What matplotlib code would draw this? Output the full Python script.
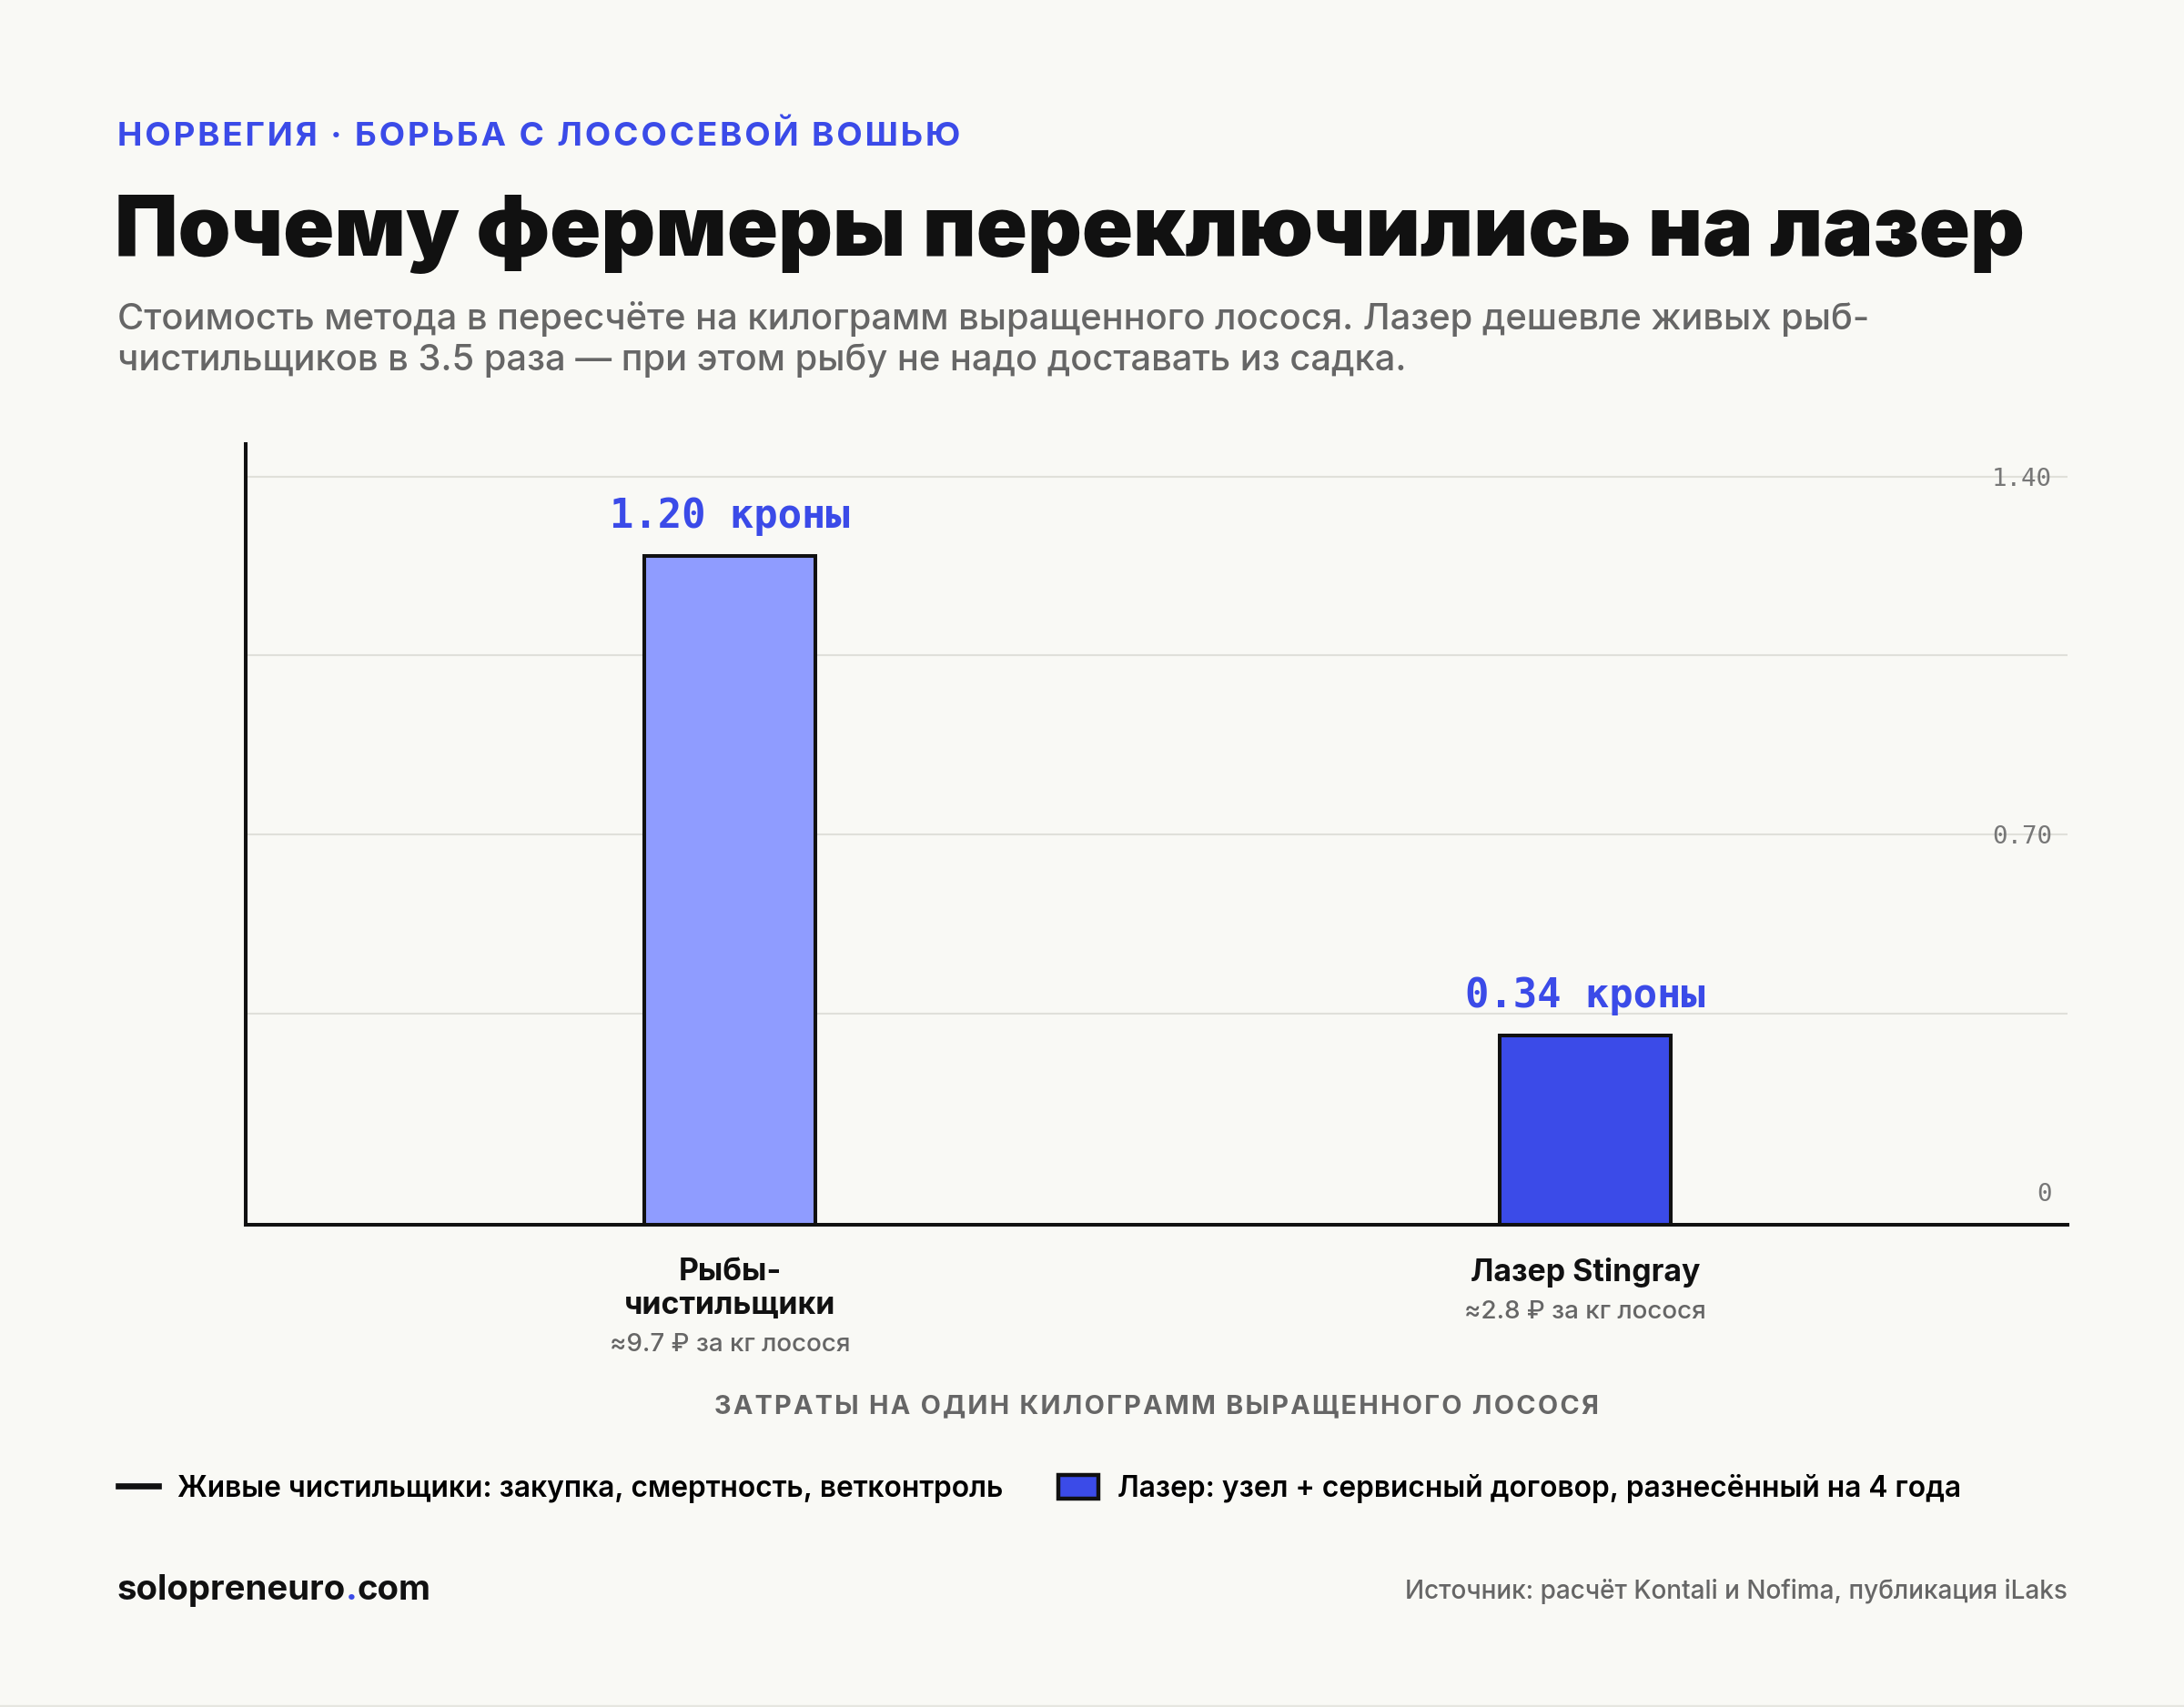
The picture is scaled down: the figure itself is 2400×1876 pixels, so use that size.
import matplotlib
matplotlib.use("Agg")
import matplotlib.pyplot as plt
from matplotlib.lines import Line2D
from matplotlib.patches import Patch

# --- данные ---
categories = ["Рыбы-\nчистильщики", "Лазер Stingray"]
rub_notes = ["≈9.7 ₽ за кг лосося", "≈2.8 ₽ за кг лосося"]
cost_nok = [1.20, 0.34]
value_labels = ["1.20 кроны", "0.34 кроны"]
grid_ticks = [0, 0.35, 0.70, 1.05, 1.40]
grid_tick_labels = ["0", "", "0.70", "", "1.40"]
legend_labels = [
    "Живые чистильщики: закупка, смертность, ветконтроль",
    "Лазер: узел + сервисный договор, разнесённый на 4 года",
]

kicker = "НОРВЕГИЯ · БОРЬБА С ЛОСОСЕВОЙ ВОШЬЮ"
title = "Почему фермеры переключились на лазер"
subtitle = ("Стоимость метода в пересчёте на килограмм выращенного лосося. Лазер дешевле живых рыб-\n"
            "чистильщиков в 3.5 раза — при этом рыбу не надо доставать из садка.")
xtitle = "ЗАТРАТЫ НА ОДИН КИЛОГРАММ ВЫРАЩЕННОГО ЛОСОСЯ"
site = ("solopreneuro", ".", "com")
source = "Источник: расчёт Kontali и Nofima, публикация iLaks"

BG = "#F9F9F5"
BLUE = "#3B4BE8"
LIGHT = "#8F9CFF"
INK = "#111111"
GRAY = "#666666"

SANS = ["Inter", "DejaVu Sans"]
MONO = ["DejaVu Sans Mono"]
plt.rcParams["font.family"] = SANS

W, H = 2400, 1876


def spaced(s, sp="\u200a"):
    return sp.join(s)


def fx(px):
    return px / W


def fy(px):
    return 1 - px / H


fig = plt.figure(figsize=(12, 9.38), dpi=200, facecolor=BG)

# шапка
fig.text(fx(129), fy(160), spaced(kicker), color=BLUE, fontsize=13.25,
         fontweight="bold", va="baseline")
fig.text(fx(126), fy(281), title, color=INK, fontsize=33.4, fontweight="black",
         va="baseline")
fig.text(fx(129), fy(407), subtitle, color=GRAY, fontsize=14.35,
         fontweight="medium", va="baseline", linespacing=1.24)

# основная ось
ax = fig.add_axes([fx(270), fy(1346), fx(2272 - 270), (1346 - 488) / H])
x = range(len(categories))
ax.bar(x, cost_nok, width=0.2, color=[LIGHT, BLUE], edgecolor=INK,
       linewidth=1.45, zorder=3)
ax.set_xlim(-0.566, 1.564)
ax.set_ylim(0, 1.40)
for side in ("top", "right"):
    ax.spines[side].set_visible(False)
for side in ("left", "bottom"):
    ax.spines[side].set_color(INK)
    ax.spines[side].set_linewidth(1.45)
ax.set_yticks([])
ax.set_xticks([])

for i, (v, lab) in enumerate(zip(cost_nok, value_labels)):
    ax.annotate(lab, xy=(i, v), xytext=(0, 11), textcoords="offset points",
                ha="center", va="baseline", color=BLUE, fontsize=15.8,
                fontweight="bold", family=MONO, zorder=4)

# подписи категорий
trans = ax.get_xaxis_transform()
for i, (name, note) in enumerate(zip(categories, rub_notes)):
    t = ax.annotate(name, xy=(i, 0), xycoords=trans, xytext=(0, -13),
                    textcoords="offset points", ha="center", va="top",
                    fontsize=12.2, fontweight="bold", color=INK, linespacing=1.2)
    ax.annotate(note, xy=(0.5, 0), xycoords=t, xytext=(0, -5),
                textcoords="offset points", ha="center", va="top",
                fontsize=10, fontweight="medium", color=GRAY)

ax.annotate(spaced(xtitle), xy=(0.5, 0), xycoords="axes fraction",
            xytext=(0, -74.5), textcoords="offset points", ha="center",
            va="baseline", fontsize=10.4, fontweight="bold", color=GRAY)

# шкала и сетка (вторая ось)
ax2 = ax.twinx()
ax2.set_ylim(-0.064, 1.464)
ax2.set_yticks(grid_ticks)
ax2.set_yticklabels(grid_tick_labels)
ax2.grid(axis="y", color="#E0E0DA", linewidth=0.75, zorder=0)
ax2.get_ygridlines()[0].set_visible(False)
ax2.tick_params(axis="y", length=0, pad=-6.1, labelsize=9.9,
                labelcolor="#777777")
for lbl in ax2.get_yticklabels():
    lbl.set_family(MONO)
    lbl.set_ha("right")
for s in ax2.spines.values():
    s.set_visible(False)
ax2.set_zorder(ax.get_zorder() - 1)
ax.patch.set_visible(False)
ax2.patch.set_visible(False)

# легенда
handles = [Line2D([0], [0], color=INK, linewidth=2.4),
           Patch(facecolor=BLUE, edgecolor=INK, linewidth=1.6)]
fig.legend(handles, legend_labels, loc="center left",
           bbox_to_anchor=(fx(130), fy(1636)), ncol=2, frameon=False,
           handlelength=1.38, handleheight=0.85, handletextpad=0.66,
           columnspacing=1.9, borderpad=0, borderaxespad=0,
           prop={"weight": "semibold", "size": 11.45})

# подвал: адрес сайта из трёх кусков, точка синяя
renderer = fig.canvas.get_renderer()
x0 = fx(129)
site_kw = dict(fontsize=13.8, fontweight="bold", va="baseline")
ends = []
for k in (2, 3):
    probe = fig.text(x0, fy(1758), "".join(site[:k]), **site_kw)
    ends.append(probe.get_window_extent(renderer).x1 / W)
    probe.remove()
fig.text(x0, fy(1758), site[0], color=INK, **site_kw)
fig.text(ends[0], fy(1758), site[1], color=BLUE, ha="right", **site_kw)
fig.text(ends[1], fy(1758), site[2], color=INK, ha="right", **site_kw)

fig.text(fx(2272), fy(1757), source, color=GRAY, fontsize=10.07,
         fontweight="medium", ha="right", va="baseline")

fig.add_artist(Line2D([0, 1], [fy(1875), fy(1875)], transform=fig.transFigure,
                      color="#E6E6E0", linewidth=1.2))

fig.savefig("out.png", dpi=200, facecolor=BG)
